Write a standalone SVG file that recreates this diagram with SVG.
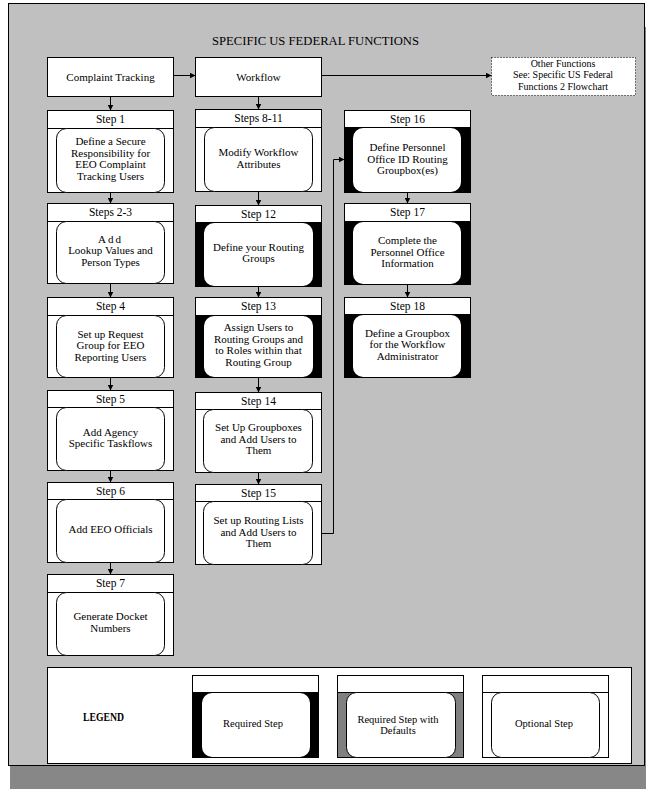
<svg xmlns="http://www.w3.org/2000/svg" width="658" height="797" viewBox="0 0 658 797">
<defs>
<style>
.box{fill:#fff;stroke:#000;stroke-width:1}
.ln{stroke:#000;stroke-width:1;fill:none}
.opt{fill:#fff;stroke:#000;stroke-width:1}
.blk{fill:#000;stroke:#000;stroke-width:1}
.gry{fill:#808080;stroke:#000;stroke-width:1}
.wht{fill:#fff;stroke:none}
.conn{stroke:#000;stroke-width:1;fill:none}
text{font-family:"Liberation Serif","Times New Roman",serif;fill:#000}
.hd{font-size:11.5px;text-anchor:middle}
.tx{font-size:11px;text-anchor:middle}
.lg{font-size:10.5px;text-anchor:middle}
.of{font-size:10px;text-anchor:middle}
</style>
<marker id="arr" markerUnits="userSpaceOnUse" markerWidth="6" markerHeight="6" refX="6" refY="3" orient="auto">
<path d="M0,0 L6,3 L0,6 z" fill="#000"/>
</marker>
</defs>

<rect x="10" y="27" width="636" height="762" fill="#878787"/>
<rect x="8.5" y="3.5" width="636" height="762" fill="#c0c0c0" stroke="#000" stroke-width="1"/>

<text x="212" y="45" font-size="12.5" textLength="207" lengthAdjust="spacingAndGlyphs">SPECIFIC  US FEDERAL  FUNCTIONS</text>

<g id="complaint-tracking">
<rect class="box" x="47.5" y="57.5" width="126" height="39"/>
<text class="tx" x="110.5" y="80.5" font-size="11.5">Complaint Tracking</text>
</g>
<g id="workflow">
<rect class="box" x="195.5" y="57.5" width="126" height="39"/>
<text class="tx" x="258.5" y="80.5" font-size="11.5">Workflow</text>
</g>
<g id="other-functions">
<rect x="491.5" y="57.5" width="144" height="38" fill="#fff" stroke="#000" stroke-width="1" stroke-dasharray="1 2"/>
<text class="of" x="563" y="66.5">Other Functions</text>
<text class="of" x="563" y="78">See: Specific US Federal</text>
<text class="of" x="563" y="89.5">Functions 2 Flowchart</text>
</g>

<!-- Column 1 -->
<g id="step-1">
<rect class="box" x="47.5" y="110.5" width="126" height="82"/>
<line class="ln" x1="47.5" y1="128.5" x2="173.5" y2="128.5"/>
<rect class="opt" x="56.5" y="128.5" width="108" height="64" rx="10"/>
<text class="hd" x="110.5" y="123">Step 1</text>
<text class="tx" x="110.5" y="145">Define a Secure</text>
<text class="tx" x="110.5" y="156.5">Responsibility for</text>
<text class="tx" x="110.5" y="168">EEO Complaint</text>
<text class="tx" x="110.5" y="179.5">Tracking Users</text>
</g>
<g id="steps-2-3">
<rect class="box" x="47.5" y="203.5" width="126" height="80"/>
<line class="ln" x1="47.5" y1="221.5" x2="173.5" y2="221.5"/>
<rect class="opt" x="56.5" y="221.5" width="108" height="62" rx="10"/>
<text class="hd" x="110.5" y="216">Steps 2-3</text>
<text class="tx" x="110.5" y="242.5" letter-spacing="2">Add</text>
<text class="tx" x="110.5" y="254">Lookup Values and</text>
<text class="tx" x="110.5" y="265.5">Person Types</text>
</g>
<g id="step-4">
<rect class="box" x="47.5" y="297.5" width="126" height="80"/>
<line class="ln" x1="47.5" y1="315.5" x2="173.5" y2="315.5"/>
<rect class="opt" x="56.5" y="315.5" width="108" height="62" rx="10"/>
<text class="hd" x="110.5" y="310">Step 4</text>
<text class="tx" x="110.5" y="337.5">Set up Request</text>
<text class="tx" x="110.5" y="349">Group for EEO</text>
<text class="tx" x="110.5" y="360.5">Reporting Users</text>
</g>
<g id="step-5">
<rect class="box" x="47.5" y="390.5" width="126" height="80"/>
<line class="ln" x1="47.5" y1="407.5" x2="173.5" y2="407.5"/>
<rect class="opt" x="56.5" y="407.5" width="108" height="63" rx="10"/>
<text class="hd" x="110.5" y="403">Step 5</text>
<text class="tx" x="110.5" y="435.5">Add Agency</text>
<text class="tx" x="110.5" y="447">Specific Taskflows</text>
</g>
<g id="step-6">
<rect class="box" x="47.5" y="482.5" width="126" height="80"/>
<line class="ln" x1="47.5" y1="499.5" x2="173.5" y2="499.5"/>
<rect class="opt" x="56.5" y="499.5" width="108" height="63" rx="10"/>
<text class="hd" x="110.5" y="495">Step 6</text>
<text class="tx" x="110.5" y="533">Add EEO Officials</text>
</g>
<g id="step-7">
<rect class="box" x="47.5" y="574.5" width="126" height="81"/>
<line class="ln" x1="47.5" y1="592.5" x2="173.5" y2="592.5"/>
<rect class="opt" x="56.5" y="592.5" width="108" height="63" rx="10"/>
<text class="hd" x="110.5" y="587">Step 7</text>
<text class="tx" x="110.5" y="620">Generate Docket</text>
<text class="tx" x="110.5" y="631.5">Numbers</text>
</g>

<!-- Column 2 -->
<g id="steps-8-11">
<rect class="box" x="195.5" y="109.5" width="126" height="82"/>
<line class="ln" x1="195.5" y1="127.5" x2="321.5" y2="127.5"/>
<rect class="opt" x="204.5" y="127.5" width="108" height="64" rx="10"/>
<text class="hd" x="258.5" y="122">Steps 8-11</text>
<text class="tx" x="258.5" y="156">Modify Workflow</text>
<text class="tx" x="258.5" y="167.5">Attributes</text>
</g>
<g id="step-12">
<rect class="box" x="195.5" y="205.5" width="126" height="81"/>
<rect class="blk" x="195.5" y="222.5" width="126" height="64"/>
<rect class="wht" x="204" y="223" width="109" height="63" rx="10"/>
<text class="hd" x="258.5" y="218">Step 12</text>
<text class="tx" x="258.5" y="250.5">Define your Routing</text>
<text class="tx" x="258.5" y="262">Groups</text>
</g>
<g id="step-13">
<rect class="box" x="195.5" y="297.5" width="126" height="80"/>
<rect class="blk" x="195.5" y="315.5" width="126" height="62"/>
<rect class="wht" x="204" y="316" width="109" height="61" rx="10"/>
<text class="hd" x="258.5" y="310">Step 13</text>
<text class="tx" x="258.5" y="331">Assign Users to</text>
<text class="tx" x="258.5" y="342.5">Routing Groups and</text>
<text class="tx" x="258.5" y="354">to Roles within that</text>
<text class="tx" x="258.5" y="365.5">Routing Group</text>
</g>
<g id="step-14">
<rect class="box" x="195.5" y="392.5" width="126" height="80"/>
<line class="ln" x1="195.5" y1="409.5" x2="321.5" y2="409.5"/>
<rect class="opt" x="203.5" y="409.5" width="109" height="63" rx="10"/>
<text class="hd" x="258.5" y="405">Step 14</text>
<text class="tx" x="258.5" y="431">Set Up Groupboxes</text>
<text class="tx" x="258.5" y="442.5">and Add Users to</text>
<text class="tx" x="258.5" y="454">Them</text>
</g>
<g id="step-15">
<rect class="box" x="195.5" y="484.5" width="126" height="80"/>
<line class="ln" x1="195.5" y1="501.5" x2="321.5" y2="501.5"/>
<rect class="opt" x="203.5" y="501.5" width="109" height="63" rx="10"/>
<text class="hd" x="258.5" y="497">Step 15</text>
<text class="tx" x="258.5" y="524">Set up Routing Lists</text>
<text class="tx" x="258.5" y="535.5">and Add Users to</text>
<text class="tx" x="258.5" y="547">Them</text>
</g>

<!-- Column 3 -->
<g id="step-16">
<rect class="box" x="344.5" y="110.5" width="126" height="82"/>
<rect class="blk" x="344.5" y="127.5" width="126" height="65"/>
<rect class="wht" x="353" y="128" width="108" height="64" rx="10"/>
<text class="hd" x="407.5" y="123">Step 16</text>
<text class="tx" x="407.5" y="151">Define Personnel</text>
<text class="tx" x="407.5" y="162.5">Office ID Routing</text>
<text class="tx" x="407.5" y="174">Groupbox(es)</text>
</g>
<g id="step-17">
<rect class="box" x="344.5" y="203.5" width="126" height="81"/>
<rect class="blk" x="344.5" y="221.5" width="126" height="63"/>
<rect class="wht" x="353" y="222" width="108" height="62" rx="10"/>
<text class="hd" x="407.5" y="216">Step 17</text>
<text class="tx" x="407.5" y="244">Complete the</text>
<text class="tx" x="407.5" y="255.5">Personnel Office</text>
<text class="tx" x="407.5" y="267">Information</text>
</g>
<g id="step-18">
<rect class="box" x="344.5" y="297.5" width="126" height="80"/>
<rect class="blk" x="344.5" y="314.5" width="126" height="63"/>
<rect class="wht" x="353" y="315" width="108" height="62" rx="10"/>
<text class="hd" x="407.5" y="310">Step 18</text>
<text class="tx" x="407.5" y="336.5">Define a Groupbox</text>
<text class="tx" x="407.5" y="348">for the Workflow</text>
<text class="tx" x="407.5" y="359.5">Administrator</text>
</g>

<!-- Legend -->
<g id="legend">
<rect x="47.5" y="667.5" width="584" height="96" fill="#fff" stroke="#000" stroke-width="1"/>
<text x="83" y="721" font-family="Liberation Sans, Arial, sans-serif" font-weight="bold" font-size="11.5" textLength="41" lengthAdjust="spacingAndGlyphs">LEGEND</text>
</g>
<g id="legend-required">
<rect class="box" x="192.5" y="675.5" width="126" height="82"/>
<rect class="blk" x="192.5" y="692.5" width="126" height="65"/>
<rect class="wht" x="202" y="693" width="108" height="64" rx="10"/>
<text class="lg" x="253" y="727">Required Step</text>
</g>
<g id="legend-required-defaults">
<rect class="box" x="337.5" y="675.5" width="126" height="82"/>
<rect class="gry" x="337.5" y="692.5" width="126" height="65"/>
<rect class="opt" x="346.5" y="692.5" width="109" height="65" rx="10"/>
<text class="lg" x="398" y="722.5">Required Step with</text>
<text class="lg" x="398" y="734">Defaults</text>
</g>
<g id="legend-optional">
<rect class="box" x="482.5" y="675.5" width="126" height="82"/>
<line class="ln" x1="482.5" y1="692.5" x2="608.5" y2="692.5"/>
<rect class="opt" x="491.5" y="692.5" width="108" height="65" rx="10"/>
<text class="lg" x="544" y="727">Optional Step</text>
</g>

<g id="connectors">
<line class="conn" x1="173.5" y1="75.5" x2="195.5" y2="75.5" marker-end="url(#arr)"/>
<line class="conn" x1="321.5" y1="75.5" x2="491.5" y2="75.5" marker-end="url(#arr)"/>
<line class="conn" x1="110.5" y1="96.5" x2="110.5" y2="110.5" marker-end="url(#arr)"/>
<line class="conn" x1="258.5" y1="96.5" x2="258.5" y2="109.5" marker-end="url(#arr)"/>
<line class="conn" x1="110.5" y1="192.5" x2="110.5" y2="203.5" marker-end="url(#arr)"/>
<line class="conn" x1="110.5" y1="283.5" x2="110.5" y2="297.5" marker-end="url(#arr)"/>
<line class="conn" x1="110.5" y1="377.5" x2="110.5" y2="390.5" marker-end="url(#arr)"/>
<line class="conn" x1="110.5" y1="470.5" x2="110.5" y2="482.5" marker-end="url(#arr)"/>
<line class="conn" x1="110.5" y1="562.5" x2="110.5" y2="574.5" marker-end="url(#arr)"/>
<line class="conn" x1="258.5" y1="191.5" x2="258.5" y2="205.5" marker-end="url(#arr)"/>
<line class="conn" x1="258.5" y1="286.5" x2="258.5" y2="297.5" marker-end="url(#arr)"/>
<line class="conn" x1="258.5" y1="377.5" x2="258.5" y2="392.5" marker-end="url(#arr)"/>
<line class="conn" x1="258.5" y1="472.5" x2="258.5" y2="484.5" marker-end="url(#arr)"/>
<polyline class="conn" points="321.5,533.5 333.5,533.5 333.5,159.5 344.5,159.5" marker-end="url(#arr)"/>
<line class="conn" x1="407.5" y1="192.5" x2="407.5" y2="203.5" marker-end="url(#arr)"/>
<line class="conn" x1="407.5" y1="284.5" x2="407.5" y2="297.5" marker-end="url(#arr)"/>
</g>
</svg>
